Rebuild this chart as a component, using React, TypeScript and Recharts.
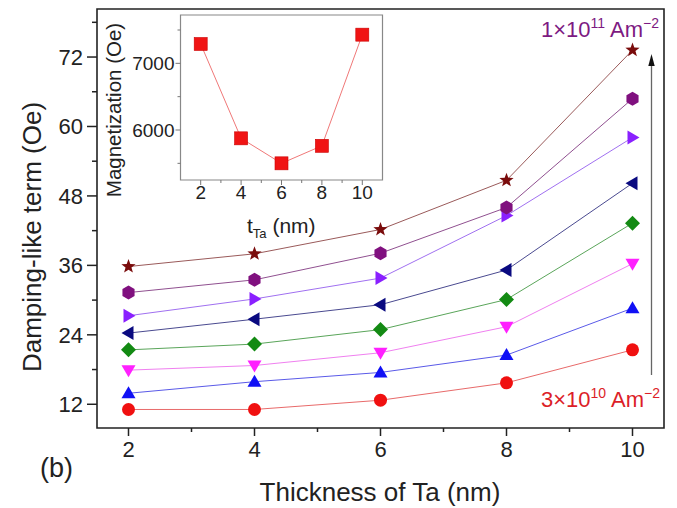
import React from 'react';
import { LineChart, Line, XAxis, YAxis, ReferenceArea } from 'recharts';

const thickness = [2, 4, 6, 8, 10];

// damping-like term (Oe) for each current density, 3e10 ... 1e11 Am^-2
const j3 = [11.1, 11.1, 12.7, 15.7, 21.4];
const j4 = [13.9, 15.9, 17.5, 20.5, 28.6];
const j5 = [17.9, 18.7, 20.9, 25.4, 36.3];
const j6 = [21.4, 22.4, 24.9, 30.1, 43.3];
const j7 = [24.3, 26.7, 29.2, 35.2, 50.2];
const j8 = [27.3, 30.2, 33.8, 44.6, 58.1];
const j9 = [31.3, 33.5, 38.1, 46.0, 64.8];
const j10 = [35.8, 38.0, 42.2, 50.7, 73.2];

const mainXTicks = [2, 3, 4, 5, 6, 7, 8, 9, 10];
const mainYTicks = [12, 18, 24, 30, 36, 42, 48, 54, 60, 66, 72, 78];

// inset: magnetization vs t_Ta
const insetThickness = [2, 4, 6, 8, 10];
const magnetization = [7290, 5875, 5500, 5763, 7430];
const insetXTicks = [2, 3, 4, 5, 6, 7, 8, 9, 10];
const insetYTicks = [5500, 6000, 6500, 7000, 7500];

const FONT = '"Liberation Sans", Arial, sans-serif';

const mainData = thickness.map((t, i) => ({
  t,
  j3: j3[i], j4: j4[i], j5: j5[i], j6: j6[i],
  j7: j7[i], j8: j8[i], j9: j9[i], j10: j10[i],
}));

const insetData = insetThickness.map((t, i) => ({ t, m: magnetization[i] }));

const series = [
  { key: 'j3', shape: 'circle', color: '#f01010', line: '#e86a6a' },
  { key: 'j4', shape: 'up', color: '#1010f5', line: '#5a5ae8' },
  { key: 'j5', shape: 'down', color: '#ff20ff', line: '#f080f0' },
  { key: 'j6', shape: 'diamond', color: '#138a13', line: '#5aa55a' },
  { key: 'j7', shape: 'left', color: '#0a0a80', line: '#4a4a90' },
  { key: 'j8', shape: 'right', color: '#8a20ff', line: '#a070f0' },
  { key: 'j9', shape: 'hex', color: '#80107f', line: '#905090' },
  { key: 'j10', shape: 'star', color: '#7a0c0c', line: '#9a5a5a' },
];

function markerPath(shape: string) {
  switch (shape) {
    case 'up': return 'M0,-7 L7,5 L-7,5 Z';
    case 'down': return 'M0,7 L7,-5 L-7,-5 Z';
    case 'left': return 'M-7,0 L5,-7 L5,7 Z';
    case 'right': return 'M7,0 L-5,-7 L-5,7 Z';
    case 'diamond': return 'M0,-7.5 L7.5,0 L0,7.5 L-7.5,0 Z';
    case 'hex': {
      const pts = [0, 1, 2, 3, 4, 5].map(k => {
        const a = (Math.PI / 3) * k + Math.PI / 6;
        return `${(7 * Math.cos(a)).toFixed(2)},${(7 * Math.sin(a)).toFixed(2)}`;
      });
      return 'M' + pts.join(' L') + ' Z';
    }
    case 'star': {
      const pts = [];
      for (let k = 0; k < 10; k++) {
        const r = k % 2 === 0 ? 7.5 : 3.1;
        const a = -Math.PI / 2 + (Math.PI / 5) * k;
        pts.push(`${(r * Math.cos(a)).toFixed(2)},${(r * Math.sin(a)).toFixed(2)}`);
      }
      return 'M' + pts.join(' L') + ' Z';
    }
    default: return '';
  }
}

const makeDot = (shape: string, color: string) => (props: any) => {
  const { cx, cy, index } = props;
  if (cx == null || cy == null) return <g key={index} />;
  if (shape === 'circle') {
    return <circle key={index} cx={cx} cy={cy} r={6.5} fill={color} />;
  }
  return (
    <path key={index} d={markerPath(shape)} transform={`translate(${cx},${cy})`} fill={color} />
  );
};

const MainXTick = ({ x, y, payload }: any) => {
  const major = payload.value % 2 === 0;
  return (
    <g>
      <line x1={x} x2={x} y1={y} y2={y + (major ? 8 : 4)} stroke="#222" strokeWidth={1.5} />
      {major && (
        <text x={x} y={y + 29} textAnchor="middle" fontSize={22} fontFamily={FONT} fill="#222">
          {payload.value}
        </text>
      )}
    </g>
  );
};

const MainYTick = ({ x, y, payload }: any) => {
  const major = (payload.value - 12) % 12 === 0;
  return (
    <g>
      <line x1={x} x2={x - (major ? 10 : 5)} y1={y} y2={y} stroke="#222" strokeWidth={1.5} />
      {major && (
        <text x={x - 14} y={y} dy="0.36em" textAnchor="end" fontSize={22} fontFamily={FONT} fill="#222">
          {payload.value}
        </text>
      )}
    </g>
  );
};

const InsetXTick = ({ x, y, payload }: any) => {
  const major = payload.value % 2 === 0;
  return (
    <g>
      <line x1={x} x2={x} y1={y} y2={y + (major ? 5 : 3)} stroke="#777" />
      {major && (
        <text x={x} y={y + 19} textAnchor="middle" fontSize={19} fontFamily={FONT} fill="#222">
          {payload.value}
        </text>
      )}
    </g>
  );
};

const InsetYTick = ({ x, y, payload }: any) => {
  const major = payload.value % 1000 === 0;
  return (
    <g>
      <line x1={x} x2={x - (major ? 5 : 3)} y1={y} y2={y} stroke="#777" />
      {major && (
        <text x={x - 6} y={y} dy="0.36em" textAnchor="end" fontSize={19} fontFamily={FONT} fill="#222">
          {payload.value}
        </text>
      )}
    </g>
  );
};

export default function App() {
  return (
    <div style={{ position: 'absolute', left: 0, top: 0, width: 677, height: 508, background: '#fff' }}>
      <LineChart
        width={677}
        height={508}
        data={mainData}
        margin={{ top: 9, right: 13, left: 0, bottom: 0 }}
      >
        <XAxis
          dataKey="t"
          type="number"
          domain={[1.5, 10.5]}
          ticks={mainXTicks}
          interval={0}
          axisLine={false}
          tickLine={false}
          tickSize={0}
          tickMargin={0}
          height={80}
          tick={(p: any) => <MainXTick {...p} />}
        />
        <YAxis
          type="number"
          domain={[7.9, 80.3]}
          ticks={mainYTicks}
          interval={0}
          axisLine={false}
          tickLine={false}
          tickSize={0}
          tickMargin={0}
          width={97}
          tick={(p: any) => <MainYTick {...p} />}
        />
        <ReferenceArea x1={1.5} x2={10.5} y1={7.9} y2={80.3} fill="none" stroke="#222" strokeWidth={1.6} />
        {series.map(s => (
          <Line
            key={s.key}
            dataKey={s.key}
            stroke={s.line}
            strokeWidth={1}
            dot={makeDot(s.shape, s.color)}
            activeDot={false}
            isAnimationActive={false}
          />
        ))}
      </LineChart>

      <div style={{ position: 'absolute', left: 90, top: 0 }}>
        <LineChart
          width={300}
          height={245}
          data={insetData}
          margin={{ top: 15, right: 7.5, left: 0, bottom: 0 }}
        >
          <XAxis
            dataKey="t"
            type="number"
            domain={[1, 11]}
            ticks={insetXTicks}
            interval={0}
            axisLine={false}
            tickLine={false}
            tickSize={0}
            tickMargin={0}
            height={65}
            tick={(p: any) => <InsetXTick {...p} />}
          />
          <YAxis
            type="number"
            domain={[5250, 7725]}
            ticks={insetYTicks}
            interval={0}
            axisLine={false}
            tickLine={false}
            tickSize={0}
            tickMargin={0}
            width={90.5}
            tick={(p: any) => <InsetYTick {...p} />}
          />
          <ReferenceArea x1={1} x2={11} y1={5250} y2={7725} fill="#fff" fillOpacity={0} stroke="#888" strokeWidth={1.2} />
          <Line
            dataKey="m"
            stroke="#f07878"
            strokeWidth={1}
            activeDot={false}
            isAnimationActive={false}
            dot={(props: any) => (
              <rect
                key={props.index}
                x={props.cx - 6.5}
                y={props.cy - 6.5}
                width={13}
                height={13}
                fill="#f01414"
                stroke="#c00"
                strokeWidth={0.6}
              />
            )}
          />
        </LineChart>
      </div>

      <svg
        width={677}
        height={508}
        style={{ position: 'absolute', left: 0, top: 0, pointerEvents: 'none' }}
        fontFamily={FONT}
      >
        <text
          transform="translate(41,237) rotate(-90)"
          textAnchor="middle"
          fontSize={26}
          fill="#222"
        >
          Damping-like term (Oe)
        </text>
        <text x={380} y={501} textAnchor="middle" fontSize={26} fill="#222">
          Thickness of Ta (nm)
        </text>
        <text x={40} y={477} fontSize={27} fill="#222">(b)</text>

        <text
          transform="translate(121,110) rotate(-90)"
          textAnchor="middle"
          fontSize={20.5}
          fill="#222"
        >
          Magnetization (Oe)
        </text>
        <text x={247} y={233} fontSize={21} fill="#222">
          t<tspan fontSize={13} dy={5}>Ta</tspan>
          <tspan dy={-5}> (nm)</tspan>
        </text>

        <text x={541} y={37} fontSize={22} fill="#7d1a82">
          1×10<tspan fontSize={14} dy={-9}>11</tspan>
          <tspan dy={9}> Am</tspan>
          <tspan fontSize={14} dy={-9}>−2</tspan>
        </text>
        <text x={541} y={407} fontSize={22} fill="#dc1e28">
          3×10<tspan fontSize={14} dy={-9}>10</tspan>
          <tspan dy={9}> Am</tspan>
          <tspan fontSize={14} dy={-9}>−2</tspan>
        </text>

        <line x1={651.5} x2={651.5} y1={375} y2={64} stroke="#666" strokeWidth={1.3} />
        <polygon points="651.5,54 648.3,66 654.7,66" fill="#111" />
      </svg>
    </div>
  );
}
